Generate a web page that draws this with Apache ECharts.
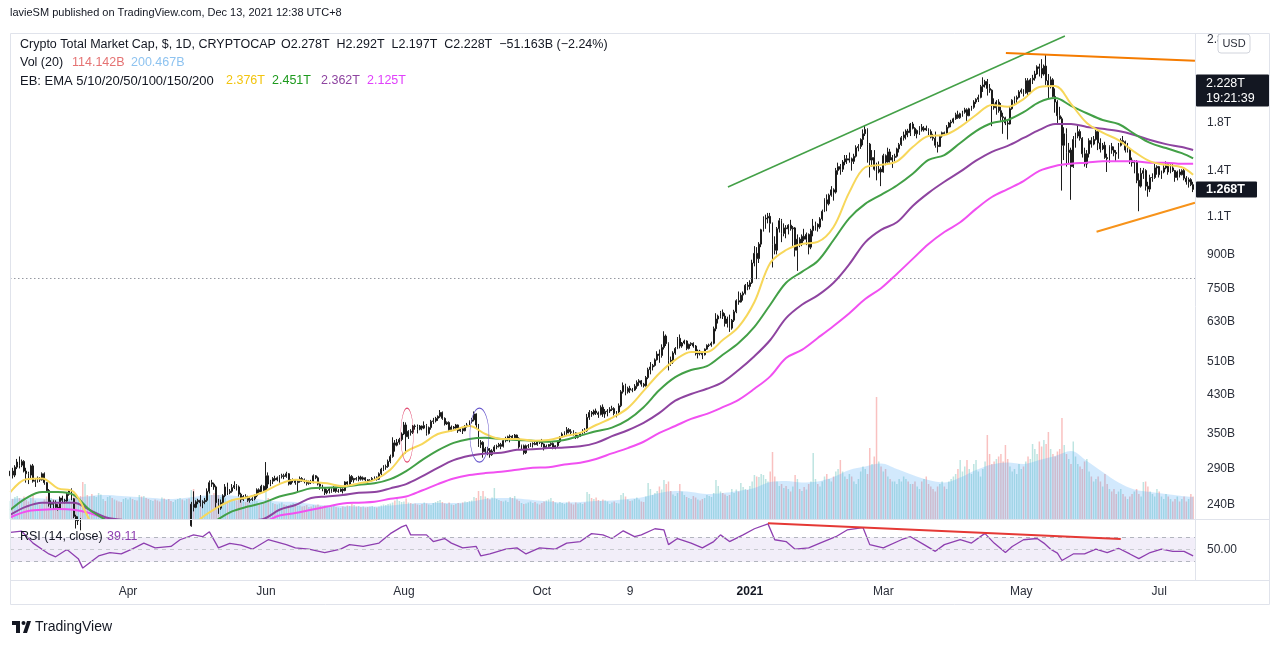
<!DOCTYPE html>
<html><head><meta charset="utf-8">
<script src="https://cdn.jsdelivr.net/npm/echarts@6/dist/echarts.min.js"></script>
<style>html,body{margin:0;padding:0;background:#fff;}#c{width:1280px;height:645px;}</style>
</head><body><div id="c"></div>
<script>
// ---------------- DATA (billions USD) ----------------
// one candle per day starting 2020-02-09 : [open, high, low, close]
const candles = [
[280,292,278,287],[287,292,276,281],[281,296,278,293],[293,306,290,301],[301,310,291,296],[296,305,293,302],[302,304,285,287],[287,292,270,283],[283,286,268,281],[281,297,276,295],
[295,298,270,272],[272,276,264,273],[273,279,270,276],[276,278,271,274],[274,285,273,283],[283,285,267,270],[270,271,257,259],[259,261,238,241],[241,246,236,243],[243,246,234,241],
[241,246,236,237],[237,241,233,235],[235,251,234,249],[249,252,243,246],[246,248,242,245],[245,256,244,254],[254,261,252,259],[259,262,246,248],[248,249,224,226],[226,228,212,221],
[221,226,216,222],[222,224,210,219],[219,220,142,146],[146,168,120,160],[160,162,148,150],[150,160,148,155],[155,156,135,140],[140,151,139,148],[148,152,143,150],[150,172,149,170],
[170,183,158,170],[170,174,163,170],[170,172,158,160],[160,172,158,171],[171,180,169,178],[178,184,173,177],[177,180,174,179],[179,181,170,172],[172,173,164,168],[168,169,159,160],
[160,175,159,174],[174,178,172,175],[175,182,170,180],[180,192,179,186],[186,190,183,185],[185,190,183,189],[189,190,184,186],[186,206,185,204],[204,208,198,199],[199,208,198,206],
[206,207,200,203],[203,204,189,191],[191,194,188,192],[192,200,190,194],[194,195,183,190],[190,193,187,189],[189,192,184,185],[185,203,182,200],[200,203,197,199],[199,208,198,206],
[206,207,199,201],[201,205,191,193],[193,197,191,195],[195,203,194,201],[201,209,197,207],[207,212,206,211],[211,213,207,210],[210,216,209,213],[213,218,212,216],[216,218,212,215],
[215,244,214,241],[241,258,232,237],[237,246,236,244],[244,248,241,246],[246,253,238,243],[243,246,236,244],[244,249,241,246],[246,262,244,258],[258,273,255,270],[270,274,264,268],
[268,270,260,264],[264,266,236,243],[243,248,229,236],[236,247,234,243],[243,254,241,252],[252,268,250,264],[264,270,253,256],[256,261,254,258],[258,268,256,263],[263,272,261,266],
[266,268,259,264],[264,266,251,254],[254,256,243,247],[247,253,245,251],[251,254,248,250],[250,252,244,246],[246,250,243,247],[247,250,245,248],[248,254,246,252],[252,262,250,260],
[260,262,254,257],[257,267,256,265],[265,266,257,259],[259,301,258,280],[280,285,262,268],[268,274,265,272],[272,278,268,276],[276,280,272,274],[274,279,272,277],[277,281,270,279],
[279,283,276,280],[280,283,275,279],[279,286,277,283],[283,284,266,268],[268,275,267,273],[273,276,270,274],[274,275,267,270],[270,274,256,272],[272,279,270,276],[276,278,271,274],
[274,276,269,272],[272,274,266,269],[269,273,267,271],[271,274,268,270],[270,282,269,280],[280,281,275,277],[277,279,266,268],[268,270,260,265],[265,267,258,262],[262,263,253,256],
[256,261,254,259],[259,263,255,261],[261,262,256,258],[258,265,257,263],[263,264,256,258],[258,261,256,258],[258,262,257,261],[261,262,255,259],[259,272,258,271],[271,272,266,268],
[268,282,267,279],[279,281,271,274],[274,277,270,276],[276,278,273,275],[275,280,272,278],[278,280,273,275],[275,279,273,277],[277,278,272,274],[274,275,269,272],[272,275,271,273],
[273,278,272,276],[276,279,274,278],[278,279,273,275],[275,285,274,283],[283,292,281,290],[290,296,287,293],[293,297,289,294],[294,305,292,302],[302,313,299,310],[310,343,308,333],
[333,338,318,329],[329,340,327,334],[334,342,330,339],[339,352,336,349],[349,372,347,366],[366,371,315,344],[344,356,340,354],[354,358,346,352],[352,366,349,364],[364,367,357,363],
[363,367,350,358],[358,366,356,364],[364,365,356,360],[360,373,358,365],[365,368,346,350],[350,363,348,361],[361,376,357,373],[373,380,368,374],[374,382,371,379],[379,385,374,383],
[383,396,380,391],[391,393,376,379],[379,381,365,368],[368,373,366,371],[371,373,355,357],[357,365,354,362],[362,364,357,360],[360,368,358,366],[366,367,351,355],[355,362,353,359],
[359,362,349,355],[355,366,354,363],[363,370,361,366],[366,375,364,373],[373,380,369,376],[376,393,373,388],[388,389,360,366],[366,368,326,330],[330,338,324,334],[334,336,308,318],
[318,326,315,323],[323,326,312,320],[320,324,308,313],[313,322,311,319],[319,329,317,326],[326,330,322,327],[327,333,325,330],[330,333,322,327],[327,339,325,337],[337,344,334,340],
[340,346,336,344],[344,348,334,345],[345,347,338,342],[342,349,340,347],[347,348,338,341],[341,343,323,326],[326,330,322,328],[328,330,313,316],[316,330,314,328],[328,331,324,328],
[328,333,326,331],[331,334,325,332],[332,338,329,330],[330,336,328,335],[335,337,331,334],[334,340,326,331],[331,332,320,325],[325,330,323,327],[327,331,325,330],[330,334,327,332],
[332,334,322,324],[324,329,322,328],[328,337,325,335],[335,345,333,343],[343,352,342,349],[349,354,346,351],[351,362,347,357],[357,360,350,353],[353,358,348,352],[352,356,346,351],
[351,352,340,343],[343,347,341,345],[345,352,344,350],[350,358,348,356],[356,360,350,355],[355,388,353,381],[381,396,376,391],[391,394,382,388],[388,397,385,394],[394,399,386,390],
[390,393,380,387],[387,406,385,402],[402,408,382,388],[388,398,380,393],[393,398,383,394],[394,402,390,397],[397,405,394,399],[399,402,385,389],[389,394,381,392],[392,410,386,405],
[405,440,402,436],[436,458,432,451],[451,455,428,436],[436,448,432,444],[444,450,433,440],[440,445,435,440],[440,454,438,449],[449,463,443,458],[458,466,450,462],[462,464,448,454],
[454,457,446,450],[450,474,448,470],[470,495,466,490],[490,510,478,497],[497,505,488,501],[501,520,498,516],[516,540,514,532],[532,545,508,528],[528,560,522,551],[551,600,545,585],
[585,590,555,562],[562,566,488,515],[515,525,500,510],[510,540,505,535],[535,552,530,548],[548,582,546,578],[578,590,548,555],[555,567,550,564],[564,574,560,570],[570,572,543,548],
[548,562,545,560],[560,566,555,563],[563,566,550,555],[555,558,528,533],[533,545,520,540],[540,544,528,534],[534,536,518,530],[530,548,528,546],[546,560,544,557],[557,562,552,558],
[558,568,553,563],[563,615,560,608],[608,660,600,640],[640,655,625,650],[650,668,642,662],[662,673,640,650],[650,660,615,625],[625,648,612,640],[640,655,598,610],[610,640,605,636],
[636,672,630,665],[665,710,660,705],[705,740,690,700],[700,735,698,726],[726,740,705,733],[733,770,728,765],[765,778,745,760],[760,785,748,775],[775,875,770,860],[860,940,845,905],
[905,935,790,880],[880,960,860,950],[950,1030,935,1025],[1025,1100,1015,1085],[1085,1110,1030,1090],[1090,1120,1060,1100],[1100,1120,1010,1060],[1060,1065,840,950],[950,990,900,920],[920,1040,900,1030],
[1030,1090,1010,1075],[1075,1085,960,1005],[1005,1060,990,1035],[1035,1050,980,1030],[1030,1055,1000,1050],[1050,1080,1020,1030],[1030,1045,940,1035],[1035,1040,890,920],[920,1000,825,975],[975,985,935,950],
[950,1000,940,990],[990,1030,965,975],[975,1010,945,1000],[1000,1005,900,935],[935,1030,925,1020],[1020,1085,990,1045],[1045,1070,1020,1055],[1055,1060,1015,1040],[1040,1095,1030,1085],[1085,1140,1075,1130],
[1130,1210,1125,1200],[1200,1235,1130,1175],[1175,1240,1165,1230],[1230,1290,1220,1265],[1265,1275,1195,1250],[1250,1420,1240,1400],[1400,1460,1370,1430],[1430,1450,1370,1410],[1410,1480,1390,1465],[1465,1520,1440,1490],
[1490,1520,1450,1480],[1480,1540,1460,1490],[1490,1500,1400,1470],[1470,1530,1450,1510],[1510,1600,1500,1580],[1580,1610,1550,1590],[1590,1660,1570,1650],[1650,1740,1600,1700],[1700,1780,1680,1740],[1740,1750,1460,1610],
[1610,1620,1350,1480],[1480,1560,1430,1500],[1500,1560,1400,1410],[1410,1460,1330,1390],[1390,1470,1380,1410],[1410,1425,1290,1390],[1390,1530,1385,1515],[1515,1525,1440,1465],[1465,1580,1460,1545],[1545,1570,1460,1480],
[1480,1520,1420,1500],[1500,1530,1470,1510],[1510,1580,1500,1570],[1570,1620,1540,1605],[1605,1680,1595,1665],[1665,1720,1640,1690],[1690,1740,1650,1725],[1725,1745,1670,1710],[1710,1800,1680,1790],[1790,1810,1740,1750],
[1750,1760,1680,1700],[1700,1740,1660,1730],[1730,1770,1690,1760],[1760,1790,1720,1735],[1735,1770,1720,1750],[1750,1775,1725,1735],[1735,1750,1680,1720],[1720,1740,1660,1670],[1670,1700,1640,1660],[1660,1720,1580,1600],
[1600,1630,1540,1590],[1590,1690,1585,1680],[1680,1720,1665,1710],[1710,1720,1680,1700],[1700,1780,1690,1760],[1760,1810,1750,1800],[1800,1830,1760,1810],[1810,1850,1795,1840],[1840,1900,1830,1880],[1880,1920,1840,1850],
[1850,1900,1840,1890],[1890,1920,1860,1905],[1905,1950,1890,1930],[1930,1945,1820,1870],[1870,1950,1865,1940],[1940,1970,1920,1955],[1955,2030,1940,2010],[2010,2050,1990,2040],[2040,2090,2010,2060],[2060,2200,2050,2180],
[2180,2290,2120,2200],[2200,2260,2170,2240],[2240,2270,2080,2160],[2160,2210,2110,2140],[2140,2150,1770,1990],[1990,2050,1930,1950],[1950,2030,1880,2010],[2010,2040,1900,1920],[1920,2000,1820,1860],[1860,1900,1700,1850],
[1850,1860,1780,1800],[1800,1830,1650,1790],[1790,1960,1785,1940],[1940,2040,1930,2030],[2030,2070,1990,2040],[2040,2080,2000,2060],[2060,2140,2050,2120],[2120,2160,2100,2140],[2140,2150,2070,2110],[2110,2280,2100,2250],
[2250,2280,2080,2120],[2120,2280,2100,2260],[2260,2320,2210,2280],[2280,2370,2250,2330],[2330,2440,2320,2420],[2420,2460,2300,2400],[2400,2520,2280,2330],[2330,2450,2310,2430],[2430,2580,2200,2250],[2250,2330,2050,2180],
[2180,2300,2160,2260],[2260,2280,2060,2070],[2070,2160,1900,2010],[2010,2030,1800,1870],[1870,1960,1830,1840],[1840,1860,1260,1600],[1600,1760,1480,1700],[1700,1750,1430,1540],[1540,1620,1450,1560],[1560,1580,1200,1430],
[1430,1680,1420,1650],[1650,1710,1580,1680],[1680,1780,1660,1720],[1720,1740,1640,1660],[1660,1670,1500,1530],[1530,1580,1430,1450],[1450,1560,1420,1530],[1530,1660,1500,1640],[1640,1670,1580,1610],[1610,1680,1600,1650],
[1650,1740,1640,1720],[1720,1725,1560,1620],[1620,1660,1540,1570],[1570,1620,1560,1600],[1600,1630,1490,1500],[1500,1530,1390,1490],[1490,1600,1460,1590],[1590,1620,1530,1560],[1560,1590,1510,1540],[1540,1560,1470,1530],
[1530,1620,1490,1600],[1600,1660,1590,1640],[1640,1680,1610,1630],[1630,1640,1540,1560],[1560,1620,1540,1570],[1570,1580,1450,1480],[1480,1500,1430,1460],[1460,1480,1380,1470],[1470,1480,1310,1330],[1330,1380,1130,1290],
[1290,1420,1280,1380],[1380,1420,1340,1400],[1400,1410,1260,1290],[1290,1320,1220,1270],[1270,1370,1250,1350],[1350,1380,1320,1350],[1350,1450,1340,1420],[1420,1440,1370,1430],[1430,1435,1350,1370],[1370,1400,1340,1390],
[1390,1440,1380,1420],[1420,1470,1410,1450],[1450,1455,1370,1390],[1390,1450,1380,1420],[1420,1450,1390,1400],[1400,1405,1320,1350],[1350,1400,1330,1390],[1390,1410,1350,1370],[1370,1410,1365,1400],[1400,1420,1330,1345],
[1345,1360,1300,1320],[1320,1350,1280,1335],[1335,1345,1290,1300],[1300,1320,1250,1268]
];
// daily volume (billions), same days as candles
const volumes = [
72,80,88,92,84,78,90,76,70,86, 96,74,62,58,60,78,90,110,84,80, 70,62,76,72,66,74,80,70,94,100, 86,92,
148,140,96,90,100,92,88,104,98,80, 72,88,92,84,78,74,70,68,80,84, 78,86,80,76,74,96,90,92,84,80, 76,72,78,74,70,86,82,76,80,72, 68,76,80,84,78,74,80,82,
116,120,84,76,80,78,90,100,112,96, 104,110,96,88,92,84,72,76,80,78, 74,82,76,70,68,72,66,70,74,72, 64,68,66,112,84,72,64,60,58,62, 66,58,56,54,60,64,56,52,54,50, 52,56,48,50,
56,54,58,52,50,54,48,46,50,52, 48,46,44,50,48,54,52,60,56,50, 52,48,50,46,48,50,52,48,46,50, 54,58,56,60,62,66,74,80,72,68, 70,82,66,64,60,62,58,56,60,66, 62,58,56,64,68,72,76,68,62,60, 66,58,56,60,64,
62,66,70,68,72,74,88,84,112,92, 112,90,84,78,86,124,80,76,72,70, 74,68,88,84,92,78,72,64,60,62, 66,70,64,68,62,58,64,70,74,78, 84,72,66,62,68,64,60,66,70,62, 58,66,62,64,60,66,108,100,84,80, 86,76,72,78,74,70,
60,66,70,64,62,96,104,90,78,72, 74,80,86,78,70,68,90,144,120,96, 104,112,130,118,156,140,150,112,98,92, 104,140,110,96,88,84,80,92,86,78, 74,80,84,96,92,88,104,156,132,110, 104,98,92,96,120,104,118,110,144,128, 120,116,132,150,176,170,168,
180,176,160,150,190,268,170,150,132,140, 124,132,120,110,130,176,160,120,112,128, 118,140,150,264,160,140,130,150,170,180, 160,150,170,190,200,236,190,170,160,180, 170,150,140,160,190,210,200,180,284,220, 250,488,230,210,190,200,170,160,150,150, 140,160,150,170,160,150,140,
140,150,130,120,150,160,170,140,130,120, 110,130,140,150,130,120,150,160,170,180, 200,236,190,210,236,200,180,220,236,190, 170,200,230,336,260,220,230,240,250,260, 230,296,240,210,190,200,180,220,200,210, 230,250,240,300,280,260,310,290,316,300, 348,280,260,250,270,280,
404,296,260,240,220,310,250,220,210,200, 230,240,190,170,150,160,170,150,130,180, 140,120,110,120,100,110,120,100,90,80, 90,100,110,120,100,90,148,150,130,110, 100,90,120,110,90,80,100,90,80,70, 80,90,70,80,90,70,80,100,90
];
// indicator readings taken every 7th day (last one on the final day)
const emaYellow = [257,275,276,262,257,222,195,178,180,188, 194,202,223,236,246,250,257,268,274,271, 269,265,269,274,289,318,331,349,356,364, 349,340,340,337,338,345,351,366,380,400, 438,481,516,538,538,573,614,700,860,921, 951,961,1040,1250,1425,1443,1470,1585,1680,1690, 1763,1877,1980,1960,2042,2175,2187,1990,1800,1710, 1645,1546,1470,1443,1425, 1370];
const emaGreen = [234,249,257,257,253,234,222,212,206,203, 202,203,207,221,232,238,243,251,256,262, 263,264,267,269,275,287,304,320,333,340, 342,340,338,337,335,338,346,354,361,376, 402,440,471,489,499,530,564,614,690,775, 821,869,971,1090,1175,1232,1294,1377,1481,1520, 1620,1725,1800,1829,1905,2010,2052,1970,1895,1829, 1790,1700,1620,1577,1535, 1493];
const emaPurple = [228,238,243,243,243,234,225,222,218,215, 214,214,215,217,219,221,223,234,240,249, 251,253,256,257,262,268,279,292,304,311, 315,316,321,322,324,325,327,333,345,356, 370,390,416,431,443,459,489,526,573,643, 690,725,775,855,959,1024,1066,1162,1245,1320, 1392,1475,1546,1595,1663,1735,1790,1790,1763,1745, 1725,1690,1645,1610,1585, 1561];
const emaMagenta = [225,232,234,235,234,230,224,221,219,218, 217,217,217,217,218,219,220,227,230,234, 238,242,243,244,248,251,259,268,276,281, 284,286,289,292,293,297,300,306,315,324, 335,351,364,378,388,402,418,443,473,521, 544,579,617,660,711,753,812,879,951,1013, 1066,1144,1218,1270,1325,1398,1435,1452,1460,1470, 1470,1470,1460,1460,1452, 1452];
const volMA = [80,84,82,80,84,92,96,92,88,84, 80,84,92,96,94,86,76,70,68,60, 54,52,50,50,54,60,64,64,64,68, 80,84,82,76,70,66,68,72,74,80, 88,104,112,108,100,104,112,124,148,152, 146,150,168,196,210,222,200,176,156,146, 166,196,218,226,220,236,252,272,232,188, 146,118,108,100,92, 88];
// RSI(14) readings: day index from 2020-02-09 and value
const rsiDay = [0,5,10,17,20,25,30,32,39,44,49,54,59,64,71,75,81,85,88,92,97,102,107,114,122,126,132,139,146,150,156,163,168,173,175,177,184,187,192,195,200,206,208,212,219,224,228,234,241,246,252,257,262,266,271,276,279,285,289,291,295,301,306,311,314,318,324,329,335,338,343,347,353,358,365,370,377,380,386,394,398,404,409,413,420,425,430,431,435,440,443,448,454,457,460,463,465,470,475,480,485,490,495,499,504,509,514,519,523];
const rsiValue = [78,80,60.5,42.7,38,50,35,19.5,39.5,45,42.7,51,60.5,52.6,55,66,74,71,79,52.6,60,57,50.5,66,58,52.6,50.5,45,50.5,58,55,60.5,76,87,90,74,74,63,68,60.5,52.6,55,39.5,42.7,50.5,52.6,42.7,52.6,50.5,60.5,63,76,74,68,80.6,71,74,84,82,58,68,60.5,52.6,63,74,63,74,84,92,66,63,50.5,52.6,60.5,71,82,86,58,52.6,66,71,58,47,58,66,60.5,74,76,60.5,45,55,66,68,60.5,50.5,44,32,42.7,42.7,50.5,45,52,42.7,35,45,50.5,47,47,39.5];
// axis ticks
const priceTicks = [240,290,350,430,510,630,750,900,1100,1400,1800,2800];
const timeTicks = ['2020-04-01','2020-06-01','2020-08-01','2020-10-01','2020-11-09','2021-01-01','2021-03-01','2021-05-01','2021-07-01'];
const timeTickLabels = ['Apr','Jun','Aug','Oct','9','2021','Mar','May','Jul'];
// user drawings in data terms: [day index, value]
const trendGreen = [[317.3,1284],[466.3,2847]];
const trendOrangeTop = [[440.2,2604],[523.8,2499]];
const trendOrangeLow = [[480.3,1014],[523.8,1182]];
const hLineValue = 795;
const rsiTrend = [[335,93],[491,67.4]];
const ellipseMarks = [[175.4,347],[207.4,347]];
const lastPrice = 2228, markedPrice = 1268;

// ---------------- CHART ----------------
const FONT = "'Liberation Sans', Arial, sans-serif";
const DAY = 86400000;
const T0 = Date.UTC(2020, 1, 9);
const ts = i => T0 + i * DAY;
const xMin = ts(-0.18), xMax = ts(523.83);
const sampleDays = Array.from({length: 75}, (_, k) => k * 7).concat([523]);
const tickTs = timeTicks.map(d => Date.parse(d + 'T00:00:00Z'));

const candleData = candles.map((r, i) => [ts(i), r[0], r[3], r[2], r[1]]);
const volData = volumes.map((v, i) => ({
  value: [ts(i), v],
  itemStyle: {color: candles[i][3] >= candles[i][0] ? 'rgba(38,166,154,0.30)' : 'rgba(239,83,80,0.36)'}
}));
const sampled = arr => arr.map((v, k) => [ts(sampleDays[k]), v]);
const ptOf = p => [ts(p[0]), p[1]];

function emaSeries(arr, color) {
  return {type: 'line', xAxisIndex: 0, yAxisIndex: 0, data: sampled(arr), smooth: 0.35, symbol: 'none',
    clip: true, silent: true, z: 5, lineStyle: {color: color, width: 2}};
}
function seg(a, b, color, width) {
  return [{coord: ptOf(a), lineStyle: {color: color, width: width, type: 'solid'}}, {coord: ptOf(b)}];
}

const chart = echarts.init(document.getElementById('c'));
const axisTxt = {color: '#2a2e39', fontSize: 12, fontFamily: FONT};
const hiddenX = gi => ({type: 'value', gridIndex: gi, min: xMin, max: xMax, show: false, scale: true});

const option = {
  animation: false,
  backgroundColor: '#ffffff',
  grid: [
    {left: 10, right: 85, top: 33, height: 486, outerBoundsMode: 'none'},
    {left: 10, right: 85, top: 279, height: 240, outerBoundsMode: 'none'},
    {left: 10, right: 85, top: 519, height: 61, outerBoundsMode: 'none'}
  ],
  xAxis: [
    hiddenX(0), hiddenX(1),
    {type: 'value', gridIndex: 2, min: xMin, max: xMax, scale: true,
      axisLine: {show: false}, axisTick: {show: false}, splitLine: {show: false},
      axisLabel: Object.assign({}, axisTxt, {
        customValues: tickTs, margin: 6, hideOverlap: false,
        formatter: v => {
          let best = 0;
          tickTs.forEach((t, j) => { if (Math.abs(t - v) < Math.abs(tickTs[best] - v)) best = j; });
          return timeTickLabels[best] === '2021' ? '{b|2021}' : timeTickLabels[best];
        },
        rich: {b: {fontWeight: 'bold', fontSize: 12, fontFamily: FONT, color: '#131722'}}
      })}
  ],
  yAxis: [
    {type: 'log', logBase: 10, gridIndex: 0, position: 'right', min: 222.9, max: 2893,
      axisLine: {show: false}, axisTick: {show: false}, splitLine: {show: false},
      axisLabel: Object.assign({}, axisTxt, {customValues: priceTicks, margin: 12,
        formatter: v => v >= 1000 ? (Math.round(v / 100) / 10) + 'T' : Math.round(v) + 'B'})},
    {type: 'value', gridIndex: 1, min: 0, max: 960, show: false},
    {type: 'value', gridIndex: 2, position: 'right', min: 0, max: 100,
      axisLine: {show: false}, axisTick: {show: false}, splitLine: {show: false},
      axisLabel: Object.assign({}, axisTxt, {customValues: [50], margin: 12, formatter: v => Number(v).toFixed(2)})}
  ],
  series: [
    {type: 'bar', xAxisIndex: 1, yAxisIndex: 1, data: volData, barWidth: 1.5, silent: true, z: 1},
    {type: 'line', xAxisIndex: 1, yAxisIndex: 1, data: sampled(volMA), smooth: 0.35, symbol: 'none', silent: true, z: 2,
      lineStyle: {width: 0}, areaStyle: {color: 'rgba(66,165,245,0.34)'}},
    {type: 'candlestick', xAxisIndex: 0, yAxisIndex: 0, data: candleData, barWidth: 1.4, clip: true, silent: true, z: 4,
      itemStyle: {color: '#8a8a8a', color0: '#3a3a3a', borderColor: '#1c1c1c', borderColor0: '#1c1c1c', borderWidth: 1}},
    emaSeries(emaMagenta, '#f150f1'),
    emaSeries(emaPurple, '#8e44a0'),
    emaSeries(emaGreen, '#43a047'),
    emaSeries(emaYellow, '#f7d75a'),
    {type: 'line', xAxisIndex: 0, yAxisIndex: 0, data: [], z: 6, silent: true,
      markLine: {silent: true, symbol: ['none', 'none'], label: {show: false}, animation: false,
        data: [
          {yAxis: hLineValue, lineStyle: {type: [1.5, 2.5], color: '#9598a1', width: 1}},
          seg(trendGreen[0], trendGreen[1], '#43a047', 1.5),
          seg(trendOrangeTop[0], trendOrangeTop[1], '#f57c00', 2),
          seg(trendOrangeLow[0], trendOrangeLow[1], '#f7931a', 2)
        ]}},
    {type: 'line', xAxisIndex: 2, yAxisIndex: 2, data: rsiDay.map((d, k) => [ts(d), rsiValue[k]]), symbol: 'none', silent: true, z: 4,
      lineStyle: {color: '#8e3fb0', width: 1.3},
      markArea: {silent: true, itemStyle: {color: 'rgba(126,87,194,0.10)'}, data: [[{yAxis: 30}, {yAxis: 70}]]},
      markLine: {silent: true, symbol: ['none', 'none'], label: {show: false}, animation: false,
        data: [
          {yAxis: 70, lineStyle: {type: [4, 4], color: '#b2b5be', width: 1}},
          {yAxis: 50, lineStyle: {type: [4, 4], color: '#c8cad0', width: 1}},
          {yAxis: 30, lineStyle: {type: [4, 4], color: '#b2b5be', width: 1}},
          seg(rsiTrend[0], rsiTrend[1], '#e53935', 2)
        ]}}
  ]
};
chart.setOption(option);

// ---------- texts, frame, labels and drawings ----------
const txt = (x, y, s, color, size, extra) => ({type: 'text', z: 61, silent: true,
  style: Object.assign({x: x, y: y, text: s, fill: color, fontSize: size || 12.5, fontFamily: FONT, verticalAlign: 'middle', align: 'left'}, extra || {})});
const ln = (x1, y1, x2, y2) => ({type: 'line', z: 40, silent: true, shape: {x1, y1, x2, y2}, style: {stroke: '#e0e3eb', lineWidth: 1}});

const yPx = v => chart.convertToPixel({yAxisIndex: 0}, v);
const xPx = d => chart.convertToPixel({xAxisIndex: 0}, ts(d));
const lastY = yPx(lastPrice), markY = yPx(markedPrice);

const els = [
  {type: 'rect', z: 40, silent: true, shape: {x: 10.5, y: 33.5, width: 1259, height: 571}, style: {fill: 'none', stroke: '#e0e3eb', lineWidth: 1}},
  ln(1195.5, 33, 1195.5, 580), ln(10, 519.5, 1270, 519.5), ln(10, 580.5, 1270, 580.5),
  txt(10, 13, 'lavieSM published on TradingView.com, Dec 13, 2021 12:38 UTC+8', '#131722', 11),
  txt(20, 45, 'Crypto Total Market Cap, $, 1D, CRYPTOCAP', '#131722'),
  txt(281, 45, 'O2.278T  H2.292T  L2.197T  C2.228T  \u221251.163B (\u22122.24%)', '#131722'),
  txt(20, 63, 'Vol (20)', '#131722'), txt(72, 63, '114.142B', '#e57373'), txt(131, 63, '200.467B', '#8ec3f0'),
  txt(20, 81, 'EB: EMA 5/10/20/50/100/150/200', '#131722', 13),
  txt(226, 81, '2.376T', '#f2c40f'), txt(272, 81, '2.451T', '#1e9a1e'), txt(321, 81, '2.362T', '#8e44a0'), txt(367, 81, '2.125T', '#e040fb'),
  txt(20, 537, 'RSI (14, close)', '#131722'), txt(107, 537, '39.11', '#8e3fb0'),
  {type: 'rect', z: 60, silent: true, shape: {x: 1218, y: 34, width: 32, height: 19, r: 3}, style: {fill: '#ffffff', stroke: '#d1d4dc', lineWidth: 1}},
  txt(1234, 44, 'USD', '#2a2e39', 11, {align: 'center'}),
  {type: 'rect', z: 60, silent: true, shape: {x: 1196, y: lastY - 8, width: 73, height: 32, r: 1}, style: {fill: '#131722'}},
  txt(1206, lastY + 1.5, '2.228T', '#ffffff', 12.5),
  txt(1206, lastY + 16, '19:21:39', '#ffffff', 12.5),
  {type: 'rect', z: 60, silent: true, shape: {x: 1196, y: markY - 8, width: 61, height: 16, r: 1}, style: {fill: '#131722'}},
  txt(1206, markY, '1.268T', '#ffffff', 12.5, {fontWeight: 'bold'}),
  {type: 'polygon', z: 50, silent: true, shape: {points: [[12, 621], [20, 621], [20, 633], [16, 633], [16, 625], [12, 625]]}, style: {fill: '#131722'}},
  {type: 'circle', z: 50, silent: true, shape: {cx: 23.5, cy: 623, r: 2}, style: {fill: '#131722'}},
  {type: 'polygon', z: 50, silent: true, shape: {points: [[27, 621], [31, 621], [27, 633], [23, 633]]}, style: {fill: '#131722'}},
  txt(35, 627, 'TradingView', '#131722', 14)
];
const ellipseStyle = [{stroke: '#e0436b', rx: 6.3, ry: 27}, {stroke: '#6a5acd', rx: 9.5, ry: 27}];
ellipseMarks.forEach((m, k) => {
  const st = ellipseStyle[k];
  els.push({type: 'circle', z: 30, silent: true, x: xPx(m[0]), y: yPx(m[1]), scaleX: st.rx / st.ry,
    shape: {cx: 0, cy: 0, r: st.ry}, style: {fill: 'none', stroke: st.stroke, lineWidth: 1.4, strokeNoScale: true}});
});
chart.setOption({graphic: {elements: els}});
</script></body></html>
